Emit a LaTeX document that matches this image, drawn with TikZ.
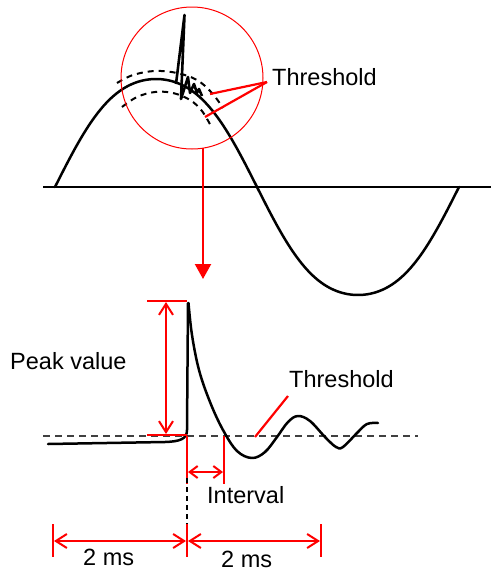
\documentclass[tikz,border=0pt]{standalone}
\usepackage{fontspec}
\setmainfont{Liberation Sans}
\usetikzlibrary{arrows.meta}
\begin{document}
\begin{tikzpicture}[x=1pt,y=-1pt,
  declare function={ss(\t)=sin(0.8910891*(\t-55));},
  wave/.style={line width=2.5pt,line join=round,line cap=round},
  thin axis/.style={line width=1.3pt},
  redline/.style={red,line width=2.2pt},
  dim/.style={red,line width=2pt,{Straight Barb[length=11pt,width=14pt]}-{Straight Barb[length=11pt,width=14pt]}},
  smalldim/.style={red,line width=2pt,{Straight Barb[length=8pt,width=12pt]}-{Straight Barb[length=8pt,width=12pt]}},
  lab/.style={font=\fontsize{23.5}{28}\selectfont,anchor=base west,inner sep=0pt},
  thr/.style={black,line width=2pt,dash pattern=on 6pt off 5pt}]
\useasboundingbox (0,0) rectangle (491,571);
% ---------- top panel ----------
\coordinate (axL) at (43,187);
\coordinate (axR) at (491,187);
\draw[thin axis] (axL) -- (axR);
\draw[wave] plot[domain=55:459,samples=160,smooth]
  ({\x},{187-108*ss(\x)*(1+0.18*(1-ss(\x)*ss(\x)))});
% dashed threshold bands
\draw[thr] plot[smooth,tension=0.6] coordinates
  {(117,83) (133,75) (155,71) (177,73) (197,80) (212,93) (223,108)};
\draw[thr] plot[smooth,tension=0.6] coordinates
  {(122,107) (137,97) (155,92) (173,93) (190,100) (202,111) (212,128)};
% spike
\draw[black,line width=2.6pt,line join=round] (176,84) -- (184.5,15) -- (181,99) -- (188,77) -- (190,93) -- (194,84) -- (197,93) -- (199,89) -- (202,96);
% red circle and threshold label
\node[draw=red,line width=1pt,circle,minimum size=142pt,inner sep=0pt] (zoomc) at (192,78) {};
\node[lab] (thrtop) at (272,85) {Threshold};
\coordinate (tp) at (267,82);
\coordinate (t1) at (210,94);
\coordinate (t2) at (205,117);
\draw[redline] (tp) -- (t1);
\draw[redline] (tp) -- (t2);
% red arrow down
\coordinate (arrTop) at (203,148);
\coordinate (arrBot) at (203,279);
\draw[red,line width=2.2pt,-{Triangle[length=15pt,width=16pt]}] (arrTop) -- (arrBot);
% ---------- bottom panel ----------
\coordinate (bl) at (43,436);
\coordinate (br) at (418,436);
\draw[black!75,line width=1.2pt,dash pattern=on 7pt off 5pt] (bl) -- (br);
\draw[wave] (48,444) -- (165,442) .. controls (180,441.5) and (187,439) .. (187,430) -- (188,303);
\draw[wave] plot[smooth,tension=0.6] coordinates
  {(188.5,303) (192,335) (199,370) (210,402) (223,430) (237,451) (252,458) (265,452) (277,437) (288,422) (298,416) (310,421) (325,437) (336,447) (343,447) (357,433) (367,424) (378,423)};
% peak value
\coordinate (pkT1) at (147,301);
\coordinate (pkT2) at (187,301);
\coordinate (pkB1) at (147,435);
\coordinate (pkB2) at (187,435);
\draw[redline] (pkT1) -- (pkT2);
\draw[redline] (pkB1) -- (pkB2);
\coordinate (pa1) at (166,302);
\coordinate (pa2) at (166,434);
\draw[dim] (pa1) -- (pa2);
\node[lab] (pv) at (10,369) {Peak value};
% bottom threshold
\node[lab] (thrbot) at (289,387) {Threshold};
\coordinate (tb1) at (288,396);
\coordinate (tb2) at (255,437);
\draw[redline] (tb1) -- (tb2);
% interval
\coordinate (i1t) at (187,436);
\coordinate (i1b) at (187,484);
\coordinate (i2t) at (224,436);
\coordinate (i2b) at (224,484);
\draw[redline] (i1t) -- (i1b);
\draw[redline] (i2t) -- (i2b);
\coordinate (ia1) at (188,472);
\coordinate (ia2) at (223,472);
\draw[smalldim] (ia1) -- (ia2);
\node[lab] (intv) at (207,503) {Interval};
% dashed vertical
\coordinate (dv1) at (187,478);
\coordinate (dv2) at (187,526);
\draw[black,line width=1.2pt,dash pattern=on 5pt off 4pt] (dv1) -- (dv2);
% 2 ms dimensions
\coordinate (m1t) at (53,524);
\coordinate (m1b) at (53,557);
\coordinate (m2t) at (187,524);
\coordinate (m2b) at (187,557);
\coordinate (m3t) at (321,524);
\coordinate (m3b) at (321,557);
\draw[redline] (m1t) -- (m1b);
\draw[redline] (m2t) -- (m2b);
\draw[redline] (m3t) -- (m3b);
\coordinate (d1a) at (54,541);
\coordinate (d1b) at (186,541);
\coordinate (d2a) at (188,541);
\coordinate (d2b) at (320,541);
\draw[dim] (d1a) -- (d1b);
\draw[dim] (d2a) -- (d2b);
\node[lab] (ms1) at (83,565) {2 ms};
\node[lab] (ms2) at (221,567) {2 ms};
\end{tikzpicture}
\end{document}
